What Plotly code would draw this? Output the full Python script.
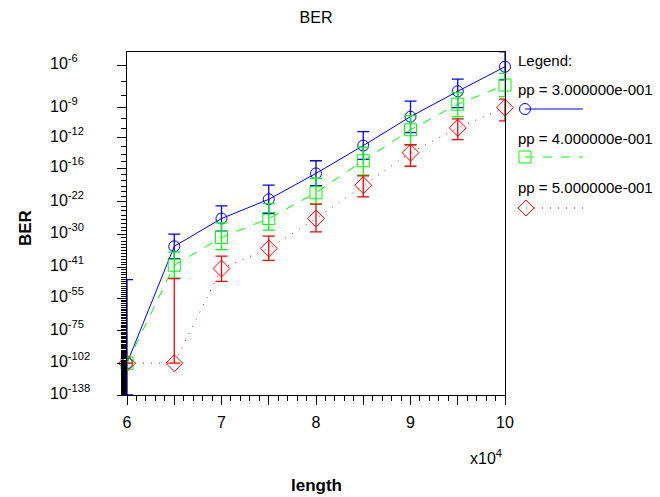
import numpy as np
import plotly.graph_objects as go

# ---------------- data ----------------
length = [60000, 65000, 70000, 75000, 80000, 85000, 90000, 95000, 100000]

# BER values stored as exponents: BER = 10**(-value)
ber_exp_pp3 = [102, 33.6, 25.8, 21.5, 16.8, 12.9, 9.8, 7.7, 6.1]
ber_exp_pp3_hi = [46.1, 29.9, 22.9, 18.8, 14.9, 11.3, 8.45, 6.86, 5.3]   # upper BER bound
ber_exp_pp3_lo = [138, 37.8, 29.1, 24.6, 18.9, 14.7, 11.4, 9.0, 6.9]     # lower BER bound

ber_exp_pp4 = [102, 40.2, 30.9, 25.8, 20.2, 14.9, 11.1, 8.7, 7.26]
ber_exp_pp4_hi = [102, 35.5, 26.9, 22.4, 17.6, 13.1, 9.7, 7.8, 6.5]
ber_exp_pp4_lo = [102, 45.5, 34.7, 28.8, 22.5, 17.1, 12.8, 9.8, 8.1]

ber_exp_pp5 = [102, 102, 41.5, 34.3, 25.8, 18.8, 13.8, 10.9, 9.0]
ber_exp_pp5_hi = [102, 45.7, 36.9, 30.5, 22.5, 17.2, 12.8, 10.0, 8.3]
ber_exp_pp5_lo = [102, 102, 46.9, 38.4, 29.3, 21.0, 15.7, 12.2, 10.2]

series_names = ["pp = 3.000000e-001", "pp = 4.000000e-001", "pp = 5.000000e-001"]

y_tick_exps = [6, 9, 12, 16, 22, 30, 41, 55, 75, 102, 138]
x_tick_vals = [60000, 65000, 70000, 75000, 80000, 85000, 90000, 95000, 100000]
x_tick_text = ["6", " ", "7", " ", "8", " ", "9", " ", "10"]

FONT = "Liberation Sans, Arial, sans-serif"
W, H = 660, 497
L, R, T, B = 127, 155, 52, 102
PW, PH = W - L - R, H - T - B


def px(xp):
    return (xp - L) / PW


def py(yp):
    return (H - B - yp) / PH


fig = go.Figure()

styles = [
    dict(color="#0000ff", symbol="circle-open", size=11, dash="solid"),
    dict(color="#00ff00", symbol="square-open", size=12, dash="9px,9px"),
    dict(color="#ff0000", symbol="diamond-open", size=13, dash="1px,7px"),
]
datasets = [
    (ber_exp_pp3, ber_exp_pp3_hi, ber_exp_pp3_lo),
    (ber_exp_pp4, ber_exp_pp4_hi, ber_exp_pp4_lo),
    (ber_exp_pp5, ber_exp_pp5_hi, ber_exp_pp5_lo),
]

for name, st, (e, hi, lo) in zip(series_names, styles, datasets):
    e = np.array(e, float)
    plus = np.array(lo, float) - e
    minus = e - np.array(hi, float)
    # error bars (clipped to the plot frame)
    fig.add_trace(go.Scatter(
        x=length, y=e, name=name, mode="markers",
        marker=dict(size=1, color=st["color"], opacity=0),
        error_y=dict(type="data", symmetric=False, array=plus, arrayminus=minus,
                     color=st["color"], thickness=1.3, width=6),
        cliponaxis=True, showlegend=False, hoverinfo="skip",
    ))
    # line + markers (markers may overhang the frame)
    fig.add_trace(go.Scatter(
        x=length, y=e, name=name, mode="lines+markers",
        line=dict(color=st["color"], width=1, dash=st["dash"]),
        marker=dict(symbol=st["symbol"], size=st["size"], color=st["color"],
                    line=dict(color=st["color"], width=1)),
        cliponaxis=False, showlegend=False,
    ))

minor_vals = [v for v in range(7, 138) if v not in y_tick_exps]

fig.update_layout(
    width=W, height=H,
    margin=dict(l=L, r=R, t=T, b=B),
    paper_bgcolor="white", plot_bgcolor="white",
    font=dict(family=FONT, size=14, color="black"),
    title=dict(text="BER", x=px(316), xref="paper", xanchor="center",
               y=1 - 17 / H, yref="container", yanchor="middle",
               font=dict(family=FONT, size=16, color="black")),
    xaxis=dict(
        range=[60000, 100000], tickmode="array", tickvals=x_tick_vals, ticktext=x_tick_text,
        ticks="outside", ticklen=9, tickwidth=1, tickcolor="black",
        showline=True, linecolor="black", linewidth=1, mirror=True,
        showgrid=False, zeroline=False, tickfont=dict(size=16),
        ticklabelstandoff=4,
        minor=dict(dtick=1000, tick0=0, ticks="outside", ticklen=5, tickcolor="black",
                   tickwidth=1, showgrid=False),
    ),
    yaxis=dict(
        type="log", range=[np.log10(138), np.log10(6) - 13 / 242],
        tickmode="array", tickvals=y_tick_exps, showticklabels=False,
        ticks="outside", ticklen=9, tickwidth=1, tickcolor="black",
        showline=True, linecolor="black", linewidth=1, mirror=True,
        showgrid=False, zeroline=False,
        minor=dict(tickmode="array", tickvals=minor_vals, ticks="outside", ticklen=5,
                   tickcolor="black", tickwidth=1, showgrid=False),
    ),
)

ann = []
for v in y_tick_exps:
    ann.append(dict(text=f"10<sup>-{v}</sup>", x=px(48), xref="paper", xanchor="left",
                    y=np.log10(v), yref="y", yanchor="middle", yshift=3,
                    showarrow=False, font=dict(family=FONT, size=16, color="black")))
ann.append(dict(text="<b>BER</b>", x=px(25), xref="paper", y=py(228), yref="paper",
                textangle=-90, showarrow=False, xanchor="center", yanchor="middle",
                font=dict(family=FONT, size=17, color="black")))
ann.append(dict(text="<b>length</b>", x=px(316), xref="paper", y=py(485), yref="paper",
                showarrow=False, xanchor="center", yanchor="middle",
                font=dict(family=FONT, size=17, color="black")))
ann.append(dict(text="x10<sup>4</sup>", x=px(504), xref="paper", y=py(457), yref="paper",
                showarrow=False, xanchor="right", yanchor="middle",
                font=dict(family=FONT, size=16, color="black")))

# legend block (drawn manually, matching the original's layout)
ann.append(dict(text="Legend:", x=px(516), xref="paper", y=py(60), yref="paper",
                showarrow=False, xanchor="left", yanchor="middle",
                font=dict(family=FONT, size=15, color="black")))
leg_text_y = [90, 138, 188]
for name, ty in zip(series_names, leg_text_y):
    ann.append(dict(text=name, x=px(516), xref="paper", y=py(ty), yref="paper",
                    showarrow=False, xanchor="left", yanchor="middle",
                    font=dict(family=FONT, size=15, color="black")))

shapes = []
# blue sample
shapes.append(dict(type="line", xref="paper", yref="paper", x0=px(525), x1=px(583),
                   y0=py(109), y1=py(109), line=dict(color="#0000ff", width=1)))
shapes.append(dict(type="circle", xref="paper", yref="paper", x0=px(519.5), x1=px(530.5),
                   y0=py(103.5), y1=py(114.5), line=dict(color="#0000ff", width=1)))
# green sample
shapes.append(dict(type="line", xref="paper", yref="paper", x0=px(525), x1=px(583),
                   y0=py(157), y1=py(157), line=dict(color="#00ff00", width=1, dash="9px,9px")))
shapes.append(dict(type="rect", xref="paper", yref="paper", x0=px(519), x1=px(531),
                   y0=py(151), y1=py(163), line=dict(color="#00ff00", width=1),
                   fillcolor="rgba(0,0,0,0)"))
# red sample
shapes.append(dict(type="line", xref="paper", yref="paper", x0=px(526), x1=px(583),
                   y0=py(208), y1=py(208), line=dict(color="#ff0000", width=1, dash="1px,7px")))
r = 8
shapes.append(dict(type="path", xref="paper", yref="paper",
                   path=f"M {px(526 - r)} {py(208)} L {px(526)} {py(208 - r)} L {px(526 + r)} {py(208)} L {px(526)} {py(208 + r)} Z",
                   line=dict(color="#ff0000", width=1)))

fig.update_layout(annotations=ann, shapes=shapes)

fig.write_html("out.html", config={"displayModeBar": False},
               post_script="document.body.style.margin='0px';document.body.style.overflow='hidden';")
